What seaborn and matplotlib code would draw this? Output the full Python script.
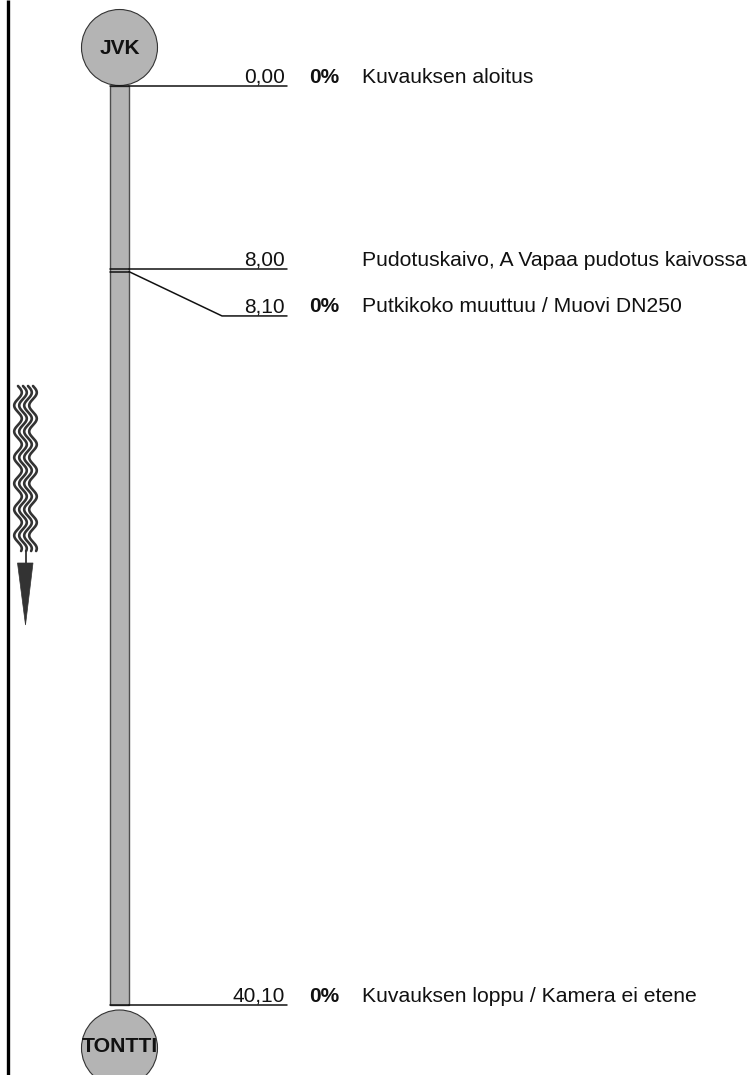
import numpy as np
import pandas as pd
import matplotlib
matplotlib.use("Agg")
import matplotlib.pyplot as plt
from matplotlib.patches import Ellipse, Rectangle, Polygon
import seaborn as sns

# ---- data ----
positions = [0.00, 8.00, 8.10, 40.10]
value_labels = ["0,00", "8,00", "8,10", "40,10"]
slopes = ["0%", "", "0%", "0%"]
descriptions = [
    "Kuvauksen aloitus",
    "Pudotuskaivo, A Vapaa pudotus kaivossa",
    "Putkikoko muuttuu / Muovi DN250",
    "Kuvauksen loppu / Kamera ei etene",
]
start_node = "JVK"
end_node = "TONTTI"

# ---- style ----
sns.set_theme(style="white")
plt.rcParams["font.family"] = ["Liberation Sans", "DejaVu Sans"]

W, H = 754, 1075
PX_PER_M = 22.918
Y0 = 86.0

def px2m(py):
    return (py - Y0) / PX_PER_M

fig = plt.figure(figsize=(W / 100, H / 100), dpi=100)
ax = fig.add_axes([0, 0, 1, 1])
ax.set_xlim(0, W)
ax.set_ylim(px2m(H), px2m(0))
ax.axis("off")

GRAY = "#b4b4b4"
DARK = "#333333"
LINE = "#111111"

# left border
ax.plot([7.5, 7.5], [px2m(0), px2m(H)], color="black", lw=2.4, solid_capstyle="butt")

# pipe
px_l, px_r = 110.0, 129.0
cx = (px_l + px_r) / 2
pipe_len = positions[-1] - positions[0]
ax.add_patch(Rectangle((px_l, positions[0]), px_r - px_l, pipe_len,
                       facecolor=GRAY, edgecolor="#4d4d4d", lw=1.0, zorder=2))

# nodes
R = 38.0
ax.add_patch(Ellipse((cx, px2m(47.5)), 2 * R, 2 * R / PX_PER_M,
                     facecolor=GRAY, edgecolor=DARK, lw=0.8, zorder=3))
ax.text(cx, px2m(48), start_node, ha="center", va="center",
        fontsize=15, fontweight="bold", color="#111111", zorder=4)
ax.add_patch(Ellipse((cx, px2m(1048)), 2 * R, 2 * R / PX_PER_M,
                     facecolor=GRAY, edgecolor=DARK, lw=0.8, zorder=3))
ax.text(cx, px2m(1046), end_node, ha="center", va="center",
        fontsize=15.3, fontweight="bold", color="#111111", zorder=4)

# label layout (avoid overlap)
min_gap = 46.6 / PX_PER_M
label_y = []
for p in positions:
    ly = p if not label_y else max(p, label_y[-1] + min_gap)
    label_y.append(ly)

x_bend, x_end = 222.0, 287.0
for p, ly, v, s, d in zip(positions, label_y, value_labels, slopes, descriptions):
    # mark across pipe
    ax.plot([px_l, px_r], [p, p], color=LINE, lw=1.1, zorder=3)
    if abs(ly - p) < 1e-9:
        df = pd.DataFrame({"x": [px_r, x_end], "y": [p, p]})
    else:
        df = pd.DataFrame({"x": [px_r, x_bend, x_end], "y": [p, ly, ly]})
    sns.lineplot(data=df, x="x", y="y", ax=ax, sort=False, estimator=None,
                 color=LINE, lw=1.1, zorder=3)
    ax.annotate(v, xy=(285, ly), xytext=(0, 2.5), textcoords="offset points",
                ha="right", va="baseline", fontsize=15, color="#111111")
    if s:
        ax.annotate(s, xy=(309, ly), xytext=(0, 2.5), textcoords="offset points",
                    ha="left", va="baseline", fontsize=15, fontweight="bold",
                    color="#111111")
    ax.annotate(d, xy=(362, ly), xytext=(0, 2.5), textcoords="offset points",
                ha="left", va="baseline", fontsize=15.2, color="#111111")

# flow direction symbol (wavy lines + arrow)
yy = np.linspace(386, 551, 400)
for xc in [18.0, 23.0, 28.0, 33.0]:
    xx = xc + 3.8 * np.sin(2 * np.pi * (yy - 386) / 26.0)
    ax.plot(xx, px2m(yy), color=DARK, lw=1.9, zorder=3)
ax.plot([25.5, 25.5], [px2m(551), px2m(566)], color=DARK, lw=1.3, zorder=3)
ax.add_patch(Polygon([(17.5, px2m(563)), (33.0, px2m(563)), (25.5, px2m(625))],
                     closed=True, facecolor=DARK, edgecolor=DARK, lw=0.5, zorder=3))

fig.savefig("out.png", dpi=100)
